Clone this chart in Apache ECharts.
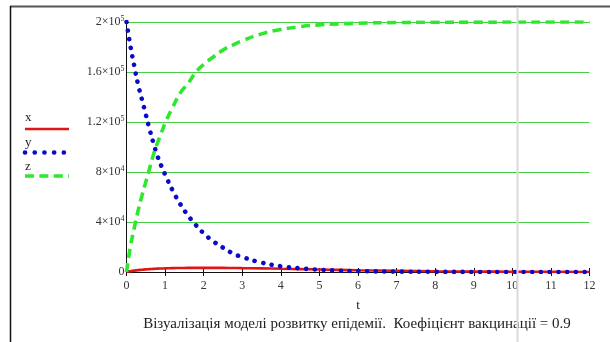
<!DOCTYPE html>
<html>
<head>
<meta charset="utf-8">
<script src="https://cdn.jsdelivr.net/npm/echarts@6/dist/echarts.min.js"></script>
<style>
  html, body { margin: 0; padding: 0; background: #fff; }
  #chart { width: 610px; height: 342px; }
</style>
</head>
<body>
<div id="chart"></div>
<script>
// time points (t)
var tValues = [0, 0.1, 0.2, 0.3, 0.4, 0.5, 0.6, 0.7, 0.8, 0.9, 1.0, 1.2, 1.4, 1.6, 1.8, 2.0,
  2.25, 2.5, 2.75, 3.0, 3.5, 4.0, 4.5, 5.0, 5.5, 6.0, 7, 8, 9, 10, 11, 12]
// x - red solid
var xValues = [0, 600, 1100, 1500, 1800, 2100, 2300, 2500, 2700, 2800, 2900, 3100, 3200, 3300, 3300, 3300,
  3300, 3300, 3200, 3100, 2900, 2600, 2300, 2000, 1700, 1400, 1000, 600, 350, 200, 100, 50]
// y - blue dotted
var yValues = [200000, 181000, 165000, 150000, 138000, 126000, 114000, 103000, 93000, 85000, 78000, 65000, 54000, 45000, 37500, 31000,
  24500, 19500, 15000, 12000, 7500, 4600, 2900, 1800, 1100, 700, 300, 120, 50, 20, 10, 0]
// z - green dashed
var zValues = [0, 20000, 35000, 49000, 61000, 72000, 83000, 94000, 103000, 111000, 119000, 132000, 143500, 151000, 160000, 166000,
  172000, 177500, 181500, 185000, 190500, 194000, 196300, 197700, 198500, 199000, 199600, 199800, 199900, 199950, 199980, 200000]

var yTickValues = [0, 40000, 80000, 120000, 160000, 200000]
var yTickLabels = ['0', '4×10{s|4}', '8×10{s|4}', '1.2×10{s|5}', '1.6×10{s|5}', '2×10{s|5}']
var xTickLabels = ['0', '1', '2', '3', '4', '5', '6', '7', '8', '9', '10', '11', '12']
var seriesNames = ['x', 'y', 'z']
var caption = 'Візуалізація моделі розвитку епідемії.  Коефіцієнт вакцинації = 0.9'

var serif = 'Liberation Serif'
var red = '#e01515'
var blue = '#0a0acc'
var green = '#2ee82e'

function pairs(vals) {
  return tValues.map(function (t, i) { return [t, vals[i]] })
}

var chart = echarts.init(document.getElementById('chart'))
chart.setOption({
  animation: false,
  grid: { left: 126.5, right: 20.5, top: 22, bottom: 70 },
  xAxis: [
    {
      type: 'value', min: 0, max: 12, interval: 1,
      name: 't', nameLocation: 'middle', nameGap: 27,
      nameTextStyle: { fontFamily: serif, fontSize: 13, color: '#222' },
      axisLine: { show: true, lineStyle: { color: '#111', width: 1 } },
      axisTick: { show: true, inside: true, length: 4, lineStyle: { color: '#111' } },
      axisLabel: {
        fontFamily: serif, fontSize: 12, color: '#333', margin: 8,
        formatter: function (v) { return xTickLabels[v] }
      },
      splitLine: { show: false }
    },
    {
      type: 'value', min: 0, max: 12, interval: 1, position: 'top',
      axisLine: { show: true, lineStyle: { color: '#111', width: 1 } },
      axisTick: { show: true, inside: true, length: 4, lineStyle: { color: '#111' } },
      axisLabel: { show: false },
      splitLine: { show: false }
    }
  ],
  yAxis: [
    {
      type: 'value', min: 0, max: 200000, interval: 40000,
      axisLine: { show: true, lineStyle: { color: '#111', width: 1 } },
      axisTick: { show: false },
      axisLabel: {
        fontFamily: serif, fontSize: 12, color: '#333', margin: 2,
        formatter: function (v) { return yTickLabels[yTickValues.indexOf(v)] },
        rich: { s: { fontFamily: serif, fontSize: 8, color: '#333', padding: [0, 0, 7, 0] } }
      },
      splitLine: { show: true, lineStyle: { color: '#46cf46', width: 1.2 } }
    },
    {
      type: 'value', min: 0, max: 200000, interval: 40000, position: 'right',
      axisLine: { show: true, lineStyle: { color: '#111', width: 1 } },
      axisTick: { show: false },
      axisLabel: { show: false },
      splitLine: { show: false }
    }
  ],
  series: [
    {
      name: seriesNames[0], type: 'line', smooth: true, symbol: 'none',
      data: pairs(xValues),
      lineStyle: { color: red, width: 2.6 }
    },
    {
      name: seriesNames[1], type: 'line', smooth: true, symbol: 'none',
      data: pairs(yValues),
      lineStyle: { color: blue, width: 4.6, type: [0.1, 8.6], cap: 'round' }
    },
    {
      name: seriesNames[2], type: 'line', smooth: true, symbol: 'none',
      data: pairs(zValues),
      lineStyle: { color: green, width: 3.6, type: [9, 5.4] }
    }
  ],
  graphic: [
    // outer frame
    { type: 'line', shape: { x1: 10, y1: 6.5, x2: 610, y2: 6.5 }, style: { stroke: '#555', lineWidth: 2 } },
    { type: 'line', shape: { x1: 10.5, y1: 6, x2: 10.5, y2: 342 }, style: { stroke: '#111', lineWidth: 1.5 } },
    // page break line
    { type: 'line', z: 100, shape: { x1: 517.5, y1: 7.5, x2: 517.5, y2: 342 }, style: { stroke: '#dadada', lineWidth: 2 } },
    // legend
    { type: 'text', left: 25, top: 111, style: { text: seriesNames[0], font: '13px "Liberation Serif"', fill: '#222' } },
    { type: 'line', shape: { x1: 25, y1: 129, x2: 69, y2: 129 }, style: { stroke: red, lineWidth: 2.6 } },
    { type: 'text', left: 25, top: 136, style: { text: seriesNames[1], font: '13px "Liberation Serif"', fill: '#222' } },
    { type: 'line', shape: { x1: 25, y1: 152.5, x2: 66, y2: 152.5 }, style: { stroke: blue, lineWidth: 4.6, lineDash: [0.1, 9.6], lineCap: 'round' } },
    { type: 'text', left: 25, top: 160, style: { text: seriesNames[2], font: '13px "Liberation Serif"', fill: '#222' } },
    { type: 'line', shape: { x1: 25, y1: 176, x2: 69, y2: 176 }, style: { stroke: green, lineWidth: 3.6, lineDash: [9, 5.4] } },
    // caption
    { type: 'text', x: 357, y: 317, style: { text: caption, font: '15px "Liberation Serif"', fill: '#222', textAlign: 'center' } }
  ]
})
</script>
</body>
</html>
